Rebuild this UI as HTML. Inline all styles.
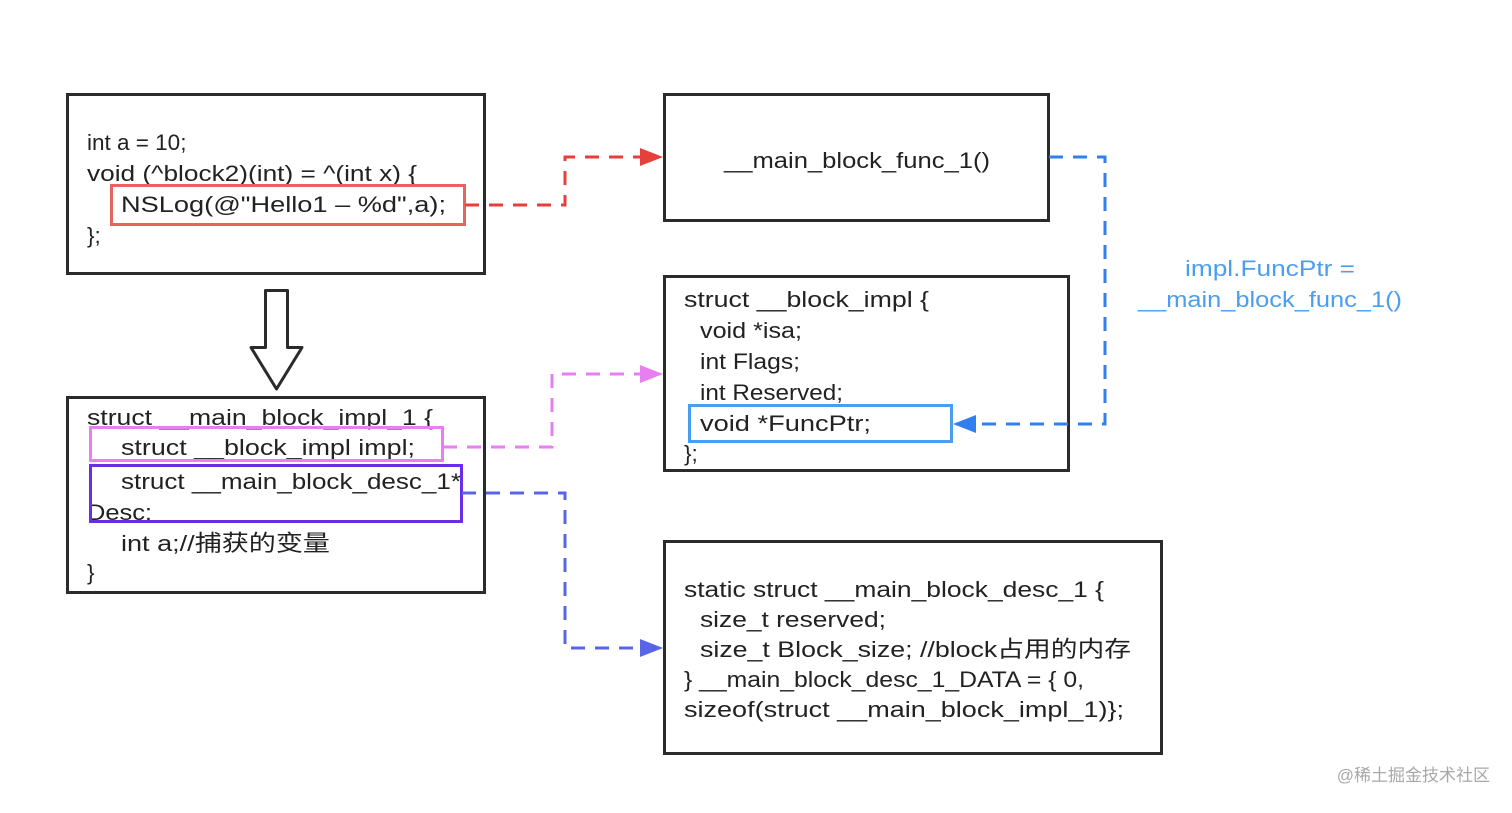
<!DOCTYPE html>
<html><head><meta charset="utf-8"><style>
html,body{margin:0;padding:0;background:#fff;}
svg text{font-family:"Liberation Sans","Noto Sans CJK SC",sans-serif;font-size:22.5px;fill:#222;}
</style></head><body>
<svg width="1512" height="808" viewBox="0 0 1512 808" xmlns="http://www.w3.org/2000/svg">
<g fill="none" stroke="#2b2b2b" stroke-width="3">
<rect x="67.5" y="94.5" width="417" height="179"/>
<rect x="664.5" y="94.5" width="384" height="126"/>
<rect x="664.5" y="276.5" width="404" height="194"/>
<rect x="67.5" y="397.5" width="417" height="195"/>
<rect x="664.5" y="541.5" width="497" height="212"/>
</g>
<path d="M265.5 290.5 H287.5 V347.5 H302 L276.5 389 L251 347.5 H265.5 Z" fill="#fff" stroke="#2b2b2b" stroke-width="3" stroke-linejoin="round"/>

<text x="87" y="150">int a = 10;</text>
<text x="87" y="181" textLength="330" lengthAdjust="spacingAndGlyphs">void (^block2)(int) = ^(int x) {</text>
<text x="121" y="212" textLength="325" lengthAdjust="spacingAndGlyphs">NSLog(@"Hello1 – %d",a);</text>
<text x="87" y="243">};</text>
<rect x="111.5" y="185.5" width="353" height="39" fill="none" stroke="#e8625f" stroke-width="3"/>

<text x="857" y="168" text-anchor="middle" textLength="266" lengthAdjust="spacingAndGlyphs">__main_block_func_1()</text>

<text x="684" y="307" textLength="245" lengthAdjust="spacingAndGlyphs">struct __block_impl {</text>
<text x="700" y="338" textLength="102" lengthAdjust="spacingAndGlyphs">void *isa;</text>
<text x="700" y="369" textLength="100" lengthAdjust="spacingAndGlyphs">int Flags;</text>
<text x="700" y="400" textLength="143" lengthAdjust="spacingAndGlyphs">int Reserved;</text>
<text x="700" y="431" textLength="171" lengthAdjust="spacingAndGlyphs">void *FuncPtr;</text>
<text x="684" y="461">};</text>
<rect x="689.5" y="405.5" width="262" height="36" fill="none" stroke="#4a9ef0" stroke-width="3"/>

<text x="87" y="425" textLength="346" lengthAdjust="spacingAndGlyphs">struct __main_block_impl_1 {</text>
<text x="121" y="455" textLength="294" lengthAdjust="spacingAndGlyphs">struct __block_impl impl;</text>
<text x="121" y="489" textLength="340" lengthAdjust="spacingAndGlyphs">struct __main_block_desc_1*</text>
<text x="87" y="520" textLength="65" lengthAdjust="spacingAndGlyphs">Desc;</text>
<text x="121" y="551" textLength="209" lengthAdjust="spacingAndGlyphs">int a;//捕获的变量</text>
<text x="87" y="580">}</text>
<rect x="90.5" y="427.5" width="352" height="33" fill="none" stroke="#e87ef0" stroke-width="3"/>
<rect x="90.5" y="465.5" width="371" height="56" fill="none" stroke="#6a2ee8" stroke-width="3"/>

<text x="684" y="597" textLength="420" lengthAdjust="spacingAndGlyphs">static struct __main_block_desc_1 {</text>
<text x="700" y="627" textLength="186" lengthAdjust="spacingAndGlyphs">size_t reserved;</text>
<text x="700" y="657" textLength="431" lengthAdjust="spacingAndGlyphs">size_t Block_size; //block占用的内存</text>
<text x="684" y="687" textLength="400" lengthAdjust="spacingAndGlyphs">} __main_block_desc_1_DATA = { 0,</text>
<text x="684" y="717" textLength="440" lengthAdjust="spacingAndGlyphs">sizeof(struct __main_block_impl_1)};</text>

<text x="1270" y="276" text-anchor="middle" textLength="170" lengthAdjust="spacingAndGlyphs" style="fill:#4a9ef0">impl.FuncPtr =</text>
<text x="1270" y="307" text-anchor="middle" textLength="264" lengthAdjust="spacingAndGlyphs" style="fill:#4a9ef0">__main_block_func_1()</text>

<g fill="none" stroke-width="3" stroke-dasharray="14,10">
<path d="M465 205 H565 V157 H642" stroke="#e5403c"/>
<path d="M1049 157 H1105 V424 H975" stroke="#2f80ed"/>
<path d="M443 447 H552 V374 H642" stroke="#e87ef0"/>
<path d="M462 493 H565 V648 H642" stroke="#5865e8"/>
</g>
<polygon points="663,157 640,148 640,166" fill="#e5403c"/>
<polygon points="953,424 976,415 976,433" fill="#2f80ed"/>
<polygon points="663,374 640,365 640,383" fill="#e87ef0"/>
<polygon points="663,648 640,639 640,657" fill="#5865e8"/>

<text x="1490" y="781" text-anchor="end" style="font-size:17px;fill:#a8a8a8">@稀土掘金技术社区</text>
</svg>
</body></html>
